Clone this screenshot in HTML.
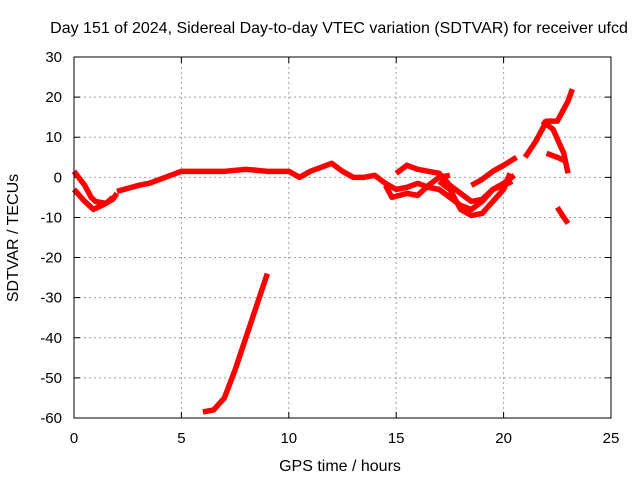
<!DOCTYPE html>
<html><head><meta charset="utf-8"><style>
body{margin:0;background:#fff}
svg{display:block;font-family:"Liberation Sans",sans-serif}
</style></head><body>
<svg id="c" width="640" height="480">
<text x="339" y="33" text-anchor="middle" font-size="16">Day 151 of 2024, Sidereal Day-to-day VTEC variation (SDTVAR) for receiver ufcd</text>
<text x="340" y="471" text-anchor="middle" font-size="16">GPS time / hours</text>
<text transform="translate(18,238) rotate(-90)" text-anchor="middle" font-size="16">SDTVAR / TECUs</text>
<g id="grid"></g><g id="marks"></g>
<rect x="74" y="57" width="537" height="361" fill="none" stroke="#000" stroke-width="1"/>
</svg>
<script>
const xTicks=[0,5,10,15,20,25];
const yTicks=[30,20,10,0,-10,-20,-30,-40,-50,-60];
const seriesA=[[0,1.5],[0.5,-2],[0.8,-5],[1.0,-6],[1.5,-6.5],[1.8,-5]];
const seriesB=[[0,-3],[0.5,-6],[0.9,-8],[1.3,-7],[1.8,-5.5],[2.0,-4]];
const seriesMain=[[2.0,-3.5],[3,-2],[3.5,-1.5],[4,-0.5],[4.5,0.5],[5,1.5],[6,1.5],[7,1.5],[8,2],[9,1.5],[10,1.5],[10.5,0],[11,1.5],[11.5,2.5],[12,3.5],[12.5,1.5],[13,0],[13.5,0],[14,0.5],[14.5,-1.5],[15,-3],[15.5,-2.5],[16,-1.5],[16.5,-2.5],[17,-3],[17.5,-5],[18,-7],[18.5,-8],[19,-6],[19.5,-3],[20,-1.5],[20.5,0.5]];
const seriesC=[[14.5,-2],[14.8,-5],[15.5,-4],[16,-4.5],[16.5,-2],[17,0],[17.5,0.5]];
const seriesD=[[15,1],[15.5,3],[16,2],[16.5,1.5],[17,1],[17.5,-2],[18,-4],[18.5,-6],[19,-5.5],[19.5,-3],[20,-2],[20.4,-1]];
const seriesE=[[17,-1],[17.5,-3],[18,-8],[18.5,-9.5],[19,-9],[19.5,-6],[20,-3],[20.3,1]];
const seriesF=[[18.5,-2],[19,-0.5],[19.5,1.5],[20,3],[20.6,5]];
const seriesG=[[21,5],[21.5,9],[22,14],[22.5,14],[23,19],[23.2,22]];
const seriesH=[[21.8,14],[22.3,12],[22.8,6],[23,1]];
const seriesI=[[22,6],[22.5,5],[22.9,4]];
const seriesJ=[[22.5,-7.5],[22.8,-10],[23,-11.5]];
const seriesK=[[6,-58.5],[6.5,-58],[7,-55],[7.5,-48],[8,-40],[8.5,-32],[9,-24]];
const allSeries=[seriesA,seriesB,seriesMain,seriesC,seriesD,seriesE,seriesF,seriesG,seriesH,seriesI,seriesJ,seriesK];
const X=h=>74+h*537/25, Y=v=>57+(30-v)*361/90;
const NS='http://www.w3.org/2000/svg';
const g=document.getElementById('grid'), m=document.getElementById('marks');
xTicks.forEach(t=>{
 const x=X(t);
 if(t>0&&t<25){const l=document.createElementNS(NS,'line');l.setAttribute('x1',x);l.setAttribute('x2',x);l.setAttribute('y1',57);l.setAttribute('y2',418);l.setAttribute('stroke','#a0a0a0');l.setAttribute('stroke-dasharray','2,3');
 
 g.appendChild(l);}
 const k=document.createElementNS(NS,'path');k.setAttribute('d',`M${x},418v-6M${x},57v6`);k.setAttribute('stroke','#000');
 
 g.appendChild(k);
 const tx=document.createElementNS(NS,'text');tx.setAttribute('x',x);tx.setAttribute('y',443);tx.setAttribute('text-anchor','middle');tx.setAttribute('font-size','15');tx.textContent=t;
 
 g.appendChild(tx);
});
yTicks.forEach(t=>{
 const y=Y(t);
 if(t<30&&t>-60){const l=document.createElementNS(NS,'line');l.setAttribute('x1',74);l.setAttribute('x2',611);l.setAttribute('y1',y);l.setAttribute('y2',y);l.setAttribute('stroke','#a0a0a0');l.setAttribute('stroke-dasharray','2,3');
 
 g.appendChild(l);}
 const k=document.createElementNS(NS,'path');k.setAttribute('d',`M74,${y}h6M611,${y}h-6`);k.setAttribute('stroke','#000');
 
 g.appendChild(k);
 const tx=document.createElementNS(NS,'text');tx.setAttribute('x',62);tx.setAttribute('y',y+5);tx.setAttribute('text-anchor','end');tx.setAttribute('font-size','15');tx.textContent=t;
 
 g.appendChild(tx);
});
allSeries.forEach(s=>{
 const p=document.createElementNS(NS,'polyline');
 p.setAttribute('points',s.map(d=>X(d[0])+','+Y(d[1])).join(' '));
 p.setAttribute('fill','none');p.setAttribute('stroke','#f00');p.setAttribute('stroke-width','5.5');p.setAttribute('stroke-linejoin','round');
 
 
 m.appendChild(p);
});
</script>
</body></html>
